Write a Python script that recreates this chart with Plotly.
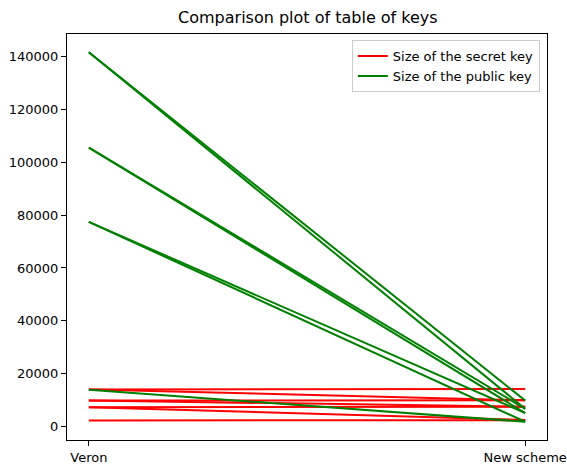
import plotly.graph_objects as go

categories = ["Veron", "New scheme"]

secret_veron = [14100, 14100, 9900, 9900, 7400, 7400, 2400]
secret_new = [14300, 10000, 10000, 7600, 7600, 2600, 2500]

public_veron = [141500, 141500, 105500, 105500, 77400, 77400, 14000]
public_new = [9900, 6800, 6800, 5200, 5200, 1900, 1900]

y_ticks = [0, 20000, 40000, 60000, 80000, 100000, 120000, 140000]

fig = go.Figure()

for i, (a, b) in enumerate(zip(secret_veron, secret_new)):
    fig.add_trace(go.Scatter(
        x=[0, 1], y=[a, b], mode="lines",
        line=dict(color="red", width=2),
        name="Size of the secret key", legendgroup="secret",
        showlegend=(i == 0), hoverinfo="skip"))

for i, (a, b) in enumerate(zip(public_veron, public_new)):
    fig.add_trace(go.Scatter(
        x=[0, 1], y=[a, b], mode="lines",
        line=dict(color="green", width=2),
        name="Size of the public key", legendgroup="public",
        showlegend=(i == 0), hoverinfo="skip"))

fig.update_layout(
    width=567, height=468,
    margin=dict(l=67, r=20, t=34, b=28, autoexpand=False),
    paper_bgcolor="white", plot_bgcolor="white",
    font=dict(family="DejaVu Sans", size=13, color="black"),
    title=dict(text="Comparison plot of table of keys", x=0.543, xanchor="center",
               y=0.962, yanchor="middle", font=dict(size=16, color="black")),
    legend=dict(x=0.985, y=0.985, xanchor="right", yanchor="top",
                bordercolor="#cccccc", borderwidth=1, bgcolor="rgba(255,255,255,0.8)",
                font=dict(size=13), tracegroupgap=0),
    showlegend=True,
)

fig.update_xaxes(
    range=[-0.05, 1.05], tickvals=[0, 1], ticktext=categories, automargin=False,
    showgrid=False, zeroline=False, showline=True, mirror=True,
    linecolor="black", linewidth=1, ticks="outside", ticklen=5,
    tickcolor="black", tickfont=dict(size=13))

fig.update_yaxes(
    range=[-5000, 148400], tickvals=y_ticks, tickformat="d", automargin=False,
    showgrid=False, zeroline=False, showline=True, mirror=True,
    linecolor="black", linewidth=1, ticks="outside", ticklen=5,
    tickcolor="black", tickfont=dict(size=13))

fig.write_html("out.html")
